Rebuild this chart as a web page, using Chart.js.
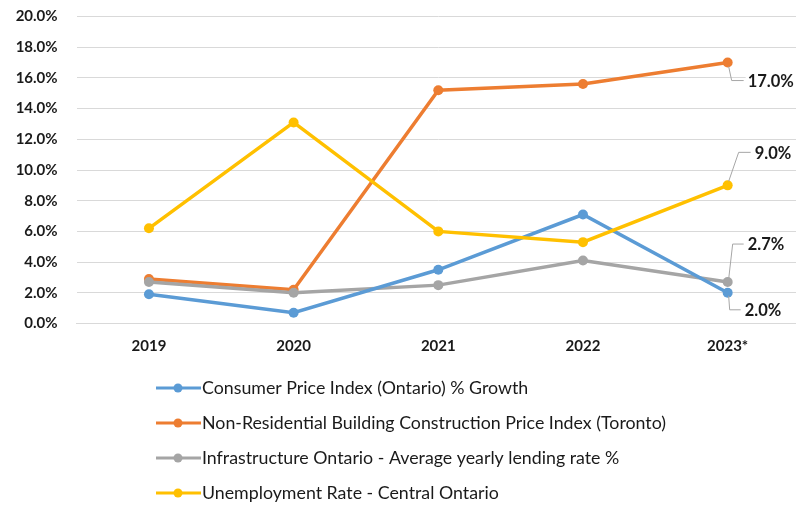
<!DOCTYPE html>
<html>
<head>
<meta charset="utf-8">
<script src="https://cdn.jsdelivr.net/npm/chart.js@4.4.1/dist/chart.umd.min.js"></script>
<style>
  html, body { margin: 0; padding: 0; background: #ffffff; }
  #wrap { width: 796px; height: 506px; position: relative; overflow: hidden; }
</style>
</head>
<body>
<div id="wrap"><canvas id="chart" width="805" height="506"></canvas></div>
<script>
// Year categories along the x axis
const years = ['2019', '2020', '2021', '2022', '2023*'];

// Series values, in percent
const cpiOntario = [1.9, 0.7, 3.5, 7.1, 2.0];
const constructionToronto = [2.9, 2.2, 15.2, 15.6, 17.0];
const lendingRate = [2.7, 2.0, 2.5, 4.1, 2.7];
const unemploymentCentral = [6.2, 13.1, 6.0, 5.3, 9.0];

// Series names
const seriesNames = [
  'Consumer Price Index (Ontario) % Growth',
  'Non-Residential Building Construction Price Index (Toronto)',
  'Infrastructure Ontario - Average yearly lending rate %',
  'Unemployment Rate - Central Ontario'
];

// Y axis range and step, in percent
const yMin = 0;
const yMax = 20;
const yStep = 2;

const colors = ['#5B9BD5', '#ED7D31', '#A5A5A5', '#FFC000'];
const FONT = 'Lato, Carlito, "Liberation Sans", sans-serif';
const TEXT = '#1a1a1a';

// Placement of the end-of-line value callouts (leader bend and text offset, px from the point)
const calloutStyle = [
  { bendDx: 2, bendDy: 17, endDx: 13, startDy: 3 },   // CPI, below
  { bendDx: 4, bendDy: 18, endDx: 16, startDy: 4 },   // construction, below
  { bendDx: 5, bendDy: -38, endDx: 16, startDy: -3 }, // lending, above
  { bendDx: 11, bendDy: -33, endDx: 23, startDy: -4 } // unemployment, above
];

const seriesData = [cpiOntario, constructionToronto, lendingRate, unemploymentCentral];

const datasets = seriesData.map((vals, i) => ({
  label: seriesNames[i],
  data: vals,
  borderColor: colors[i],
  backgroundColor: colors[i],
  borderWidth: 3.5,
  pointRadius: 5,
  pointHoverRadius: 5,
  pointBorderWidth: 0,
  tension: 0,
  order: [1, 3, 2, 0][i]
}));

// Draws callouts with leader lines on the last point of each series
const lastValueCallouts = {
  id: 'lastValueCallouts',
  afterDatasetsDraw(chart) {
    const ctx = chart.ctx;
    ctx.save();
    ctx.font = 'bold 16.5px ' + FONT;
    ctx.textBaseline = 'middle';
    chart.data.datasets.forEach((ds, i) => {
      const meta = chart.getDatasetMeta(i);
      const last = meta.data[meta.data.length - 1];
      const v = ds.data[ds.data.length - 1];
      const s = calloutStyle[i];
      const px = last.x, py = last.y;
      const bx = px + s.bendDx, by = py + s.bendDy;
      const ex = px + s.endDx;
      const text = v.toFixed(1) + '%';
      const tw = ctx.measureText(text).width;
      // white box behind the text
      ctx.fillStyle = '#ffffff';
      ctx.fillRect(ex + 2, by - 9, tw + 6, 18);
      // leader line
      ctx.strokeStyle = '#A6A6A6';
      ctx.lineWidth = 1;
      ctx.beginPath();
      ctx.moveTo(px + 1, py + s.startDy);
      ctx.lineTo(bx, by);
      ctx.lineTo(ex, by);
      ctx.stroke();
      ctx.fillStyle = TEXT;
      ctx.textAlign = 'left';
      ctx.fillText(text, ex + 4, by + 1);
    });
    ctx.restore();
  }
};

// Vertical legend below the plot
const stackedLegend = {
  id: 'stackedLegend',
  afterDraw(chart) {
    const ctx = chart.ctx;
    const rows = [388, 423, 458, 493];
    ctx.save();
    ctx.font = '17.8px ' + FONT;
    ctx.textBaseline = 'middle';
    ctx.textAlign = 'left';
    chart.data.datasets.forEach((ds, i) => {
      const y = rows[i];
      ctx.strokeStyle = ds.borderColor;
      ctx.lineWidth = 3;
      ctx.beginPath();
      ctx.moveTo(156, y);
      ctx.lineTo(201, y);
      ctx.stroke();
      ctx.fillStyle = ds.borderColor;
      ctx.beginPath();
      ctx.arc(178, y, 4.5, 0, Math.PI * 2);
      ctx.fill();
      ctx.fillStyle = TEXT;
      ctx.fillText(ds.label, 202, y);
    });
    ctx.restore();
  }
};

new Chart(document.getElementById('chart'), {
  type: 'line',
  data: { labels: years, datasets },
  plugins: [lastValueCallouts, stackedLegend],
  options: {
    responsive: false,
    animation: false,
    layout: { padding: { left: 0, right: 0, top: 16.5, bottom: 136.5 } },
    plugins: {
      legend: { display: false },
      tooltip: { enabled: false }
    },
    scales: {
      x: {
        offset: true,
        grid: { display: false, drawTicks: false },
        border: { display: true, color: '#D9D9D9', width: 1 },
        afterFit: s => { s.paddingLeft = 0; s.paddingRight = 0; },
        ticks: {
          padding: 14,
          color: TEXT,
          font: { family: FONT, size: 15, weight: 'bold' }
        }
      },
      y: {
        min: yMin,
        max: yMax,
        grid: { color: '#D9D9D9', lineWidth: 1, drawTicks: false },
        border: { display: false },
        afterFit: s => {
          s.width = 76.6;
          s.paddingTop = 0;
          s.paddingBottom = 0;
        },
        ticks: {
          stepSize: yStep,
          padding: 19,
          color: TEXT,
          font: { family: FONT, size: 15, weight: 'bold' },
          callback: v => v.toFixed(1) + '%'
        }
      }
    }
  }
});
</script>
</body>
</html>
